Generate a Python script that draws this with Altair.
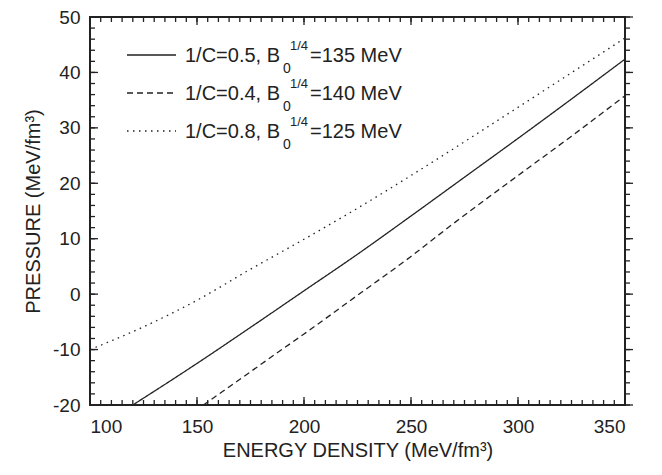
import altair as alt
import pandas as pd

# ---- data ----
energy_solid = [120, 150, 175, 200, 225, 250, 275, 300, 325, 350]
pressure_solid = [-20, -12.5, -6.0, 0.6, 7.2, 14.1, 21.1, 28.1, 35.2, 42.4]
energy_dashed = [153, 175, 190, 200, 225, 250, 268, 300, 325, 350]
pressure_dashed = [-20, -14.0, -9.9, -7.2, -0.2, 6.8, 12.2, 21.4, 28.5, 35.8]
energy_dotted = [100, 125, 150, 175, 200, 225, 250, 275, 300, 325, 350]
pressure_dotted = [-10, -5.9, -1.1, 4.5, 9.9, 15.5, 21.4, 27.5, 33.7, 39.95, 46.2]

series_keys = ["a", "b", "c"]
legend_main = ["1/C=0.5, B", "1/C=0.4, B", "1/C=0.8, B"]
legend_sub = "0"
legend_sup = "1/4"
legend_tail = ["=135 MeV", "=140 MeV", "=125 MeV"]

x_major = [100, 150, 200, 250, 300, 350]
y_major = [-20, -10, 0, 10, 20, 30, 40, 50]
x_minor = list(range(100, 351, 5))
y_minor = list(range(-20, 51, 2))

W, H = 535, 388
FONT = "Liberation Sans"
INK = "#222222"
dashes = [[1, 0], [6, 4], [1.5, 4.5]]

rows = []
for key, es, ps in zip(series_keys,
                       [energy_solid, energy_dashed, energy_dotted],
                       [pressure_solid, pressure_dashed, pressure_dotted]):
    for e, p in zip(es, ps):
        rows.append({"E": e, "P": p, "s": key})
df = pd.DataFrame(rows)

xscale = alt.Scale(domain=[100, 350], nice=False, zero=False)
yscale = alt.Scale(domain=[-20, 50], nice=False, zero=False)
xaxis = alt.Axis(values=x_major, ticks=False, tickSize=0, domain=False, grid=False,
                 labelExpr="'' + datum.value",
                 labelFont=FONT, labelFontSize=19, labelColor=INK, labelPadding=12,
                 title="ENERGY DENSITY (MeV/fm³)", titleFont=FONT, titleFontSize=20,
                 titleFontWeight="normal", titleColor=INK, titlePadding=4)
yaxis = alt.Axis(values=y_major, ticks=False, tickSize=0, domain=False, grid=False,
                 labelExpr="'' + datum.value",
                 labelFont=FONT, labelFontSize=19, labelColor=INK, labelPadding=10,
                 title="PRESSURE (MeV/fm³)", titleFont=FONT, titleFontSize=20,
                 titleFontWeight="normal", titleColor=INK, titlePadding=9)


def X(field="E"):
    return alt.X(f"{field}:Q", scale=xscale, axis=xaxis)


def Y(field="P"):
    return alt.Y(f"{field}:Q", scale=yscale, axis=yaxis)


lines = alt.Chart(df).mark_line(color=INK, strokeWidth=1.3, interpolate="monotone").encode(
    x=X(), y=Y(),
    strokeDash=alt.StrokeDash("s:N", scale=alt.Scale(domain=series_keys, range=dashes), legend=None),
    detail="s:N",
)


def ticks(values, side, length):
    if side in ("bottom", "top"):
        d = pd.DataFrame({"E": values})
        if side == "bottom":
            enc = dict(x=X(), y=alt.value(H), y2=alt.value(H - length))
        else:
            enc = dict(x=X(), y=alt.value(0), y2=alt.value(length))
    else:
        d = pd.DataFrame({"P": values})
        if side == "left":
            enc = dict(y=Y(), x=alt.value(0), x2=alt.value(length))
        else:
            enc = dict(y=Y(), x=alt.value(W), x2=alt.value(W + length))
    return alt.Chart(d).mark_rule(color=INK, strokeWidth=1.3).encode(**enc)


tick_layers = [
    ticks(x_minor, "bottom", 5), ticks(x_major, "bottom", 8),
    ticks(x_minor, "top", 5), ticks(x_major, "top", 8),
    ticks(y_minor, "left", 5), ticks(y_major, "left", 8),
    ticks(y_minor, "right", 5), ticks(y_major, "right", 8),
]

one = pd.DataFrame({"k": [0]})
legend_layers = []
for i in range(3):
    ly = 38 + 38 * i
    base = 45 + 38 * i
    legend_layers.append(
        alt.Chart(one).mark_rule(color=INK, strokeWidth=1.3, strokeDash=dashes[i]).encode(
            x=alt.value(37), x2=alt.value(86), y=alt.value(ly))
    )
    for txt, xx, yy, fs in [(legend_main[i], 95, base, 20),
                            (legend_sub, 193, base + 11, 14),
                            (legend_sup, 200, base - 12, 13),
                            (legend_tail[i], 220, base, 20)]:
        legend_layers.append(
            alt.Chart(one).mark_text(align="left", baseline="alphabetic", font=FONT,
                                     fontSize=fs, color=INK).encode(
                x=alt.value(xx), y=alt.value(yy), text=alt.value(txt))
        )

chart = alt.layer(lines, *tick_layers, *legend_layers).properties(
    width=W, height=H,
    autosize=alt.AutoSizeParams(type="none"),
    padding={"left": 90, "top": 17, "right": 37, "bottom": 70},
    background="white",
).configure_view(stroke=INK, strokeWidth=2)

chart.save("out.html", embed_options={"renderer": "svg", "actions": False})
